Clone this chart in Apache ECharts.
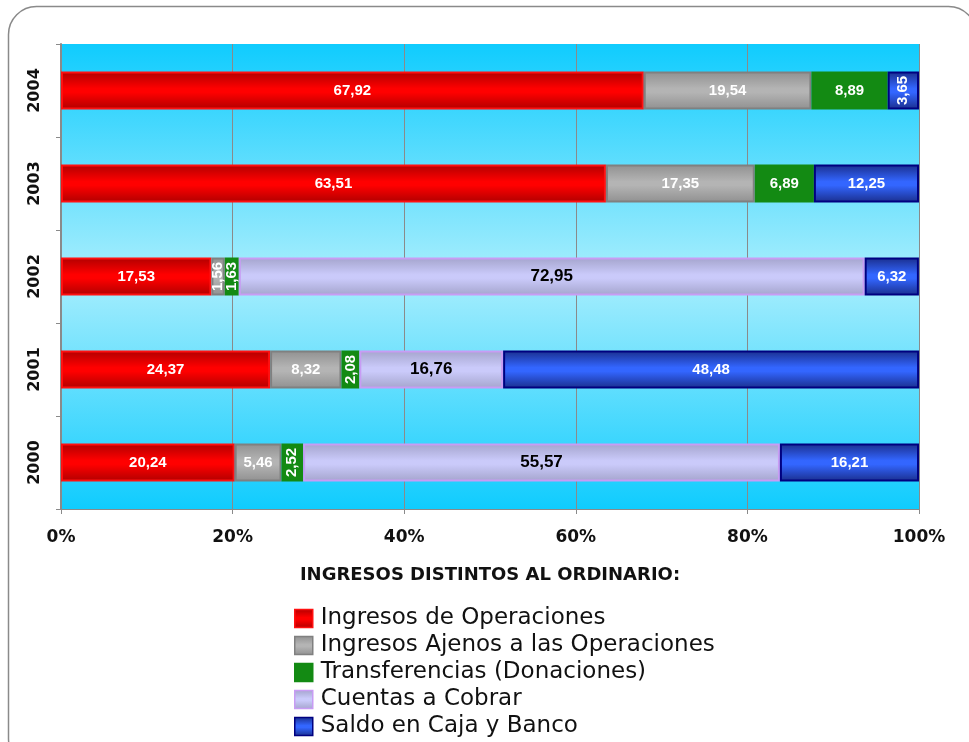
<!DOCTYPE html>
<html><head><meta charset="utf-8">
<script src="https://cdn.jsdelivr.net/npm/echarts@6/dist/echarts.min.js"></script>
<style>html,body{margin:0;padding:0;background:#fff}#c{width:969px;height:742px}</style>
</head><body><div id="c"></div>
<script>
const years = ['2000','2001','2002','2003','2004'];
const seriesNames = ['Ingresos de Operaciones','Ingresos Ajenos a las Operaciones','Transferencias (Donaciones)','Cuentas a Cobrar','Saldo en Caja y Banco'];
const ingresosOperaciones = [20.24, 24.37, 17.53, 63.51, 67.92];
const ingresosAjenos = [5.46, 8.32, 1.56, 17.35, 19.54];
const transferencias = [2.52, 2.08, 1.63, 6.89, 8.89];
const cuentasCobrar = [55.57, 16.76, 72.95, null, null];
const saldoCajaBanco = [16.21, 48.48, 6.32, 12.25, 3.65];
const xTicks = [0, 20, 40, 60, 80, 100];
const axisTitle = 'INGRESOS DISTINTOS AL ORDINARIO:';

const values = [ingresosOperaciones, ingresosAjenos, transferencias, cuentasCobrar, saldoCajaBanco];
function grad(edge, mid){
  return {type:'linear',x:0,y:0,x2:0,y2:1,colorStops:[{offset:0,color:edge},{offset:0.45,color:mid},{offset:0.55,color:mid},{offset:1,color:edge}]};
}
const styles = [
  {color:grad('#B00000','#FF0000'), border:'#FF1010', label:'#fff', size:15},
  {color:grad('#909090','#B4B4B4'), border:'#808080', label:'#fff', size:15},
  {color:'#138A13', border:'#138A13', label:'#fff', size:15},
  {color:grad('#A4A4CC','#CACAFA'), border:'#C89CF4', label:'#000', size:17},
  {color:grad('#1A2E8C','#3366FF'), border:'#000080', label:'#fff', size:15}
];
const fmt = v => v.toFixed(2).replace('.', ',');
const series = seriesNames.map((name, i) => ({
  name, type:'bar', stack:'total', barWidth:'41%',
  itemStyle:{color:styles[i].color, borderColor:styles[i].border, borderWidth:2},
  label:{show:true, position:'inside', color:styles[i].label, fontWeight:'bold', fontSize:styles[i].size,
    fontFamily:'Liberation Sans, Arial, sans-serif', formatter:p => p.value == null ? '' : fmt(p.value)},
  data: values[i].map(v => {
    if (v == null) return null;
    const o = {value:v};
    if (v < 4) o.label = {rotate:90};
    return o;
  })
}));

const chart = echarts.init(document.getElementById('c'));
chart.setOption({
  animation:false,
  graphic:[
    {type:'rect', shape:{x:8.5,y:6.5,width:968,height:760,r:28}, style:{fill:'none',stroke:'#8a8a8a',lineWidth:1.5}, z:-10},
    {type:'rect', left:61, top:44, shape:{width:858,height:465}, style:{fill:{type:'linear',x:0,y:0,x2:0,y2:1,colorStops:[{offset:0,color:'#10CCFE'},{offset:0.5,color:'#A8EEFD'},{offset:1,color:'#10CCFE'}]}}, z:-5}
  ],
  grid:{left:61, right:50, top:44, bottom:233, containLabel:false},
  legend:{
    orient:'vertical', left:294, top:607, height:300, padding:0, itemWidth:18, itemHeight:18, itemGap:4,
    icon:'rect',
    textStyle:{fontFamily:'DejaVu Sans, sans-serif', fontSize:23, color:'#111', padding:[0,0,0,3]},
    data: seriesNames.map((n,i)=>({name:n, itemStyle:{borderColor:styles[i].border, borderWidth:1.5}}))
  },
  xAxis:{
    type:'value', min:0, max:100, interval:20,
    name:axisTitle, nameLocation:'middle', nameGap:57,
    nameTextStyle:{fontFamily:'DejaVu Sans, sans-serif', fontWeight:'bold', fontSize:18, color:'#111'},
    axisLine:{show:true, lineStyle:{color:'#8a8a8a'}},
    axisTick:{show:true, length:5, lineStyle:{color:'#8a8a8a'}},
    splitLine:{show:true, lineStyle:{color:'#8a8a8a', width:1}},
    axisLabel:{formatter:'{value}%', margin:20, fontFamily:'DejaVu Sans, sans-serif', fontWeight:'bold', fontSize:17, color:'#111'}
  },
  yAxis:{
    type:'category', data:years,
    axisLine:{show:true, lineStyle:{color:'#8a8a8a', width:2}},
    axisTick:{show:true, length:5, lineStyle:{color:'#8a8a8a'}},
    axisLabel:{rotate:90, margin:18, fontFamily:'DejaVu Sans, sans-serif', fontWeight:'bold', fontSize:16, color:'#111'}
  },
  series
});
</script></body></html>
